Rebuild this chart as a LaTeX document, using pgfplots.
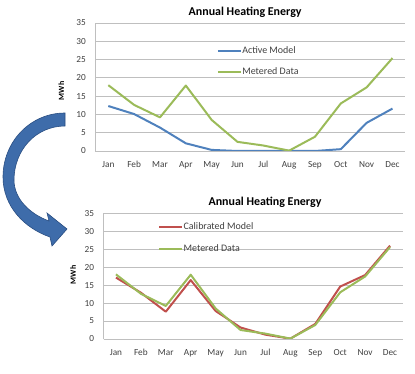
\documentclass[border=0pt]{standalone}
\usepackage{pgfplots}
\pgfplotsset{compat=1.18}
\usepackage{fontspec}
\setmainfont{Carlito}
\definecolor{actblue}{RGB}{79,129,189}
\definecolor{metgreen}{RGB}{155,187,89}
\definecolor{calred}{RGB}{192,80,77}
\definecolor{gridgray}{RGB}{191,191,191}
\definecolor{arrowfill}{RGB}{62,108,170}
\definecolor{arrowdraw}{RGB}{42,78,130}
\definecolor{ticktext}{RGB}{64,64,64}
\pgfplotsset{
  heat/.style={
    scale only axis,
    xmin=-0.5, xmax=11.5, ymin=0, ymax=35,
    xtick={0,...,11},
    xticklabels={Jan,Feb,Mar,Apr,May,Jun,Jul,Aug,Sep,Oct,Nov,Dec},
    ytick={0,5,...,35},
    axis x line*=bottom, axis y line*=left,
    axis line style={gridgray, line width=0.8bp},
    major tick length=0pt,
    ymajorgrids, grid style={gridgray, line width=0.8bp},
    /pgf/number format/assume math mode=true,
    tick label style={font=\fontsize{9.3}{10}\selectfont, text=ticktext},
    yticklabel style={xshift=-6bp},
    xticklabel style={yshift=-7bp},
    ylabel={MWh},
    ylabel style={font=\fontsize{8}{9}\selectfont\bfseries, anchor=center},
    title={Annual Heating Energy},
    title style={font=\fontsize{12}{14}\selectfont\bfseries, anchor=base, yshift=1.5bp},
    legend cell align=left,
    legend image code/.code={\draw[#1, line width=2bp] (0bp,0bp) -- (23bp,0bp);},
    every axis plot/.append style={line width=2bp, line join=round},
  }
}
\begin{document}
\begin{tikzpicture}[x=1bp,y=1bp]
\useasboundingbox (0,0) rectangle (415,374);
% curved arrow
\fill[arrowfill, draw=arrowdraw, line width=0.6bp]
  (65,261) .. controls (30,261) and (3,232) .. (3,197)
  .. controls (3,168) and (24,146) .. (50,137)
  -- (52,128) -- (67,145) -- (47,161) -- (49,153)
  .. controls (30,160) and (14,175) .. (14,194)
  .. controls (14,224) and (36,248) .. (65,248) -- cycle;

\begin{axis}[heat,
  at={(95.4bp,223bp)}, anchor=south west,
  width=310bp, height=128bp,
  title style={at={(axis description cs:0.483,1)}},
  ylabel style={at={(axis description cs:-0.11,0.47)}},
  legend style={draw=none, fill=none, inner sep=0pt,
    at={(axis description cs:0.391,0.82)}, anchor=north west,
    font=\fontsize{10}{11}\selectfont, text=ticktext,
    row sep=11.5bp,
    nodes={inner sep=0.5bp}},
]
\addplot[actblue] coordinates {(0,12.3) (1,10.1) (2,6.4) (3,2.1) (4,0.3) (5,0) (6,0) (7,0) (8,0) (9,0.5) (10,7.7) (11,11.6)};
\addlegendentry{Active Model}
\addplot[metgreen] coordinates {(0,18.0) (1,12.6) (2,9.2) (3,17.9) (4,8.5) (5,2.5) (6,1.5) (7,0.1) (8,3.9) (9,13.0) (10,17.4) (11,25.4)};
\addlegendentry{Metered Data}
\end{axis}

\begin{axis}[heat,
  at={(103.5bp,35bp)}, anchor=south west,
  width=299bp, height=125.7bp,
  title style={at={(axis description cs:0.54,1)}},
  ylabel style={at={(axis description cs:-0.102,0.51)}},
  legend style={draw=none, fill=none, inner sep=0pt,
    at={(axis description cs:0.182,0.93)}, anchor=north west,
    font=\fontsize{10}{11}\selectfont, text=ticktext,
    row sep=12.5bp,
    nodes={inner sep=0.5bp}},
]
\addplot[calred] coordinates {(0,17.1) (1,12.9) (2,7.6) (3,16.4) (4,7.8) (5,3.2) (6,1.2) (7,0.1) (8,4.2) (9,14.6) (10,17.8) (11,26.0)};
\addlegendentry{Calibrated Model}
\addplot[metgreen] coordinates {(0,18.0) (1,12.6) (2,9.2) (3,17.9) (4,8.5) (5,2.5) (6,1.5) (7,0.1) (8,3.9) (9,13.0) (10,17.4) (11,25.6)};
\addlegendentry{Metered Data}
\end{axis}
\end{tikzpicture}
\end{document}
